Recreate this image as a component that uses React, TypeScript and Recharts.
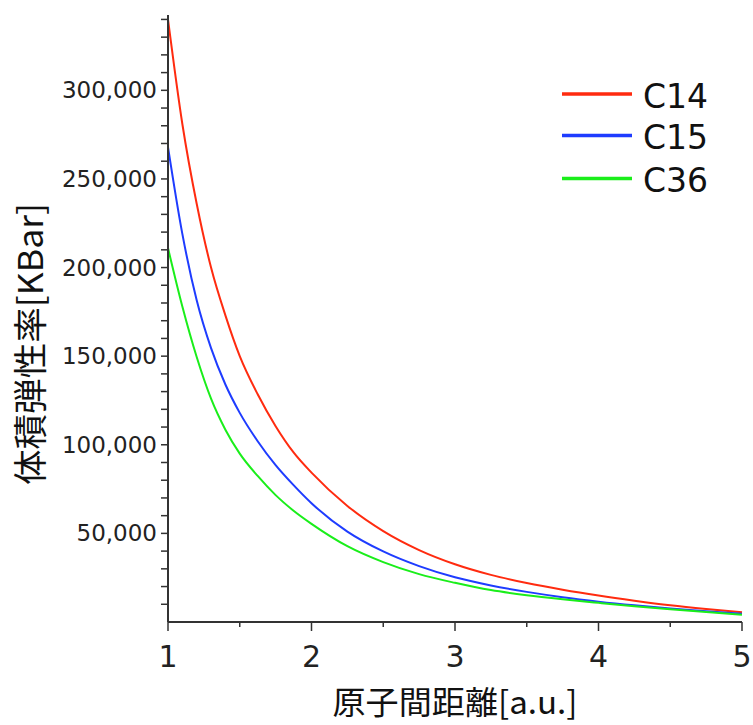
import React from 'react';
import { LineChart, Line, XAxis, YAxis } from 'recharts';

// 原子間距離 [a.u.]
const distances = [1, 1.1, 1.2, 1.3, 1.4, 1.5, 1.625, 1.75, 1.875, 2, 2.25, 2.5, 2.75, 3, 3.25, 3.5, 3.75, 4, 4.25, 4.5, 4.75, 5];
// 体積弾性率 [KBar]
const c14 = [340000, 281000, 236000, 200000, 173000, 150000, 128500, 110500, 95700, 84300, 65500, 51300, 40600, 32600, 26600, 22000, 18200, 14900, 12000, 9400, 7300, 5500];
const c15 = [268000, 219000, 181500, 154500, 134000, 118000, 102000, 88500, 77200, 67000, 51000, 39800, 31500, 25200, 20600, 17000, 14000, 11500, 9400, 7600, 6000, 4600];
const c36 = [211000, 178000, 149500, 126000, 108500, 95000, 82400, 71600, 62800, 55400, 42800, 33800, 27000, 22100, 18000, 15100, 12800, 10800, 8900, 7200, 5600, 4100];

const seriesNames = ['C14', 'C15', 'C36'];
const seriesKeys = ['c14', 'c15', 'c36'];
const seriesColors = ['#ff2b0f', '#1e3cff', '#1aee1a'];

const xTicks = [1, 1.5, 2, 2.5, 3, 3.5, 4, 4.5, 5];
const yTicks = [10000, 20000, 30000, 40000, 50000, 60000, 70000, 80000, 90000, 100000, 110000, 120000, 130000, 140000, 150000, 160000, 170000, 180000, 190000, 200000, 210000, 220000, 230000, 240000, 250000, 260000, 270000, 280000, 290000, 300000, 310000, 320000, 330000, 340000];
const yLabelStep = 50000;

const xTitle = '原子間距離[a.u.]';
const yTitle = '体積弾性率[KBar]';

const data = distances.map((r, i) => ({ r, c14: c14[i], c15: c15[i], c36: c36[i] }));

const NUM_FONT = '"DejaVu Sans", sans-serif';
const CJK_FONT = '"Noto Sans CJK JP", sans-serif';

const XTick = (props: any) => {
  const { x, y, payload } = props;
  const v = payload.value;
  const major = Number.isInteger(v);
  return (
    <g>
      <line x1={x} x2={x} y1={y} y2={y + (major ? 9 : 5)} stroke="#333" strokeWidth={1.5} />
      {major && (
        <text x={x} y={y + 45} textAnchor="middle" fontSize={30} fontFamily={NUM_FONT} fill="#222">
          {v}
        </text>
      )}
    </g>
  );
};

const YTick = (props: any) => {
  const { x, y, payload } = props;
  const v = payload.value;
  if (v % yLabelStep !== 0) return <g />;
  return (
    <text x={x} y={y + 8} textAnchor="end" fontSize={23} fontFamily={NUM_FONT} fill="#222">
      {v.toLocaleString('en-US')}
    </text>
  );
};

const XTitle = () => (
  <text
    x={455}
    y={700}
    textAnchor="middle"
    dominantBaseline="central"
    fontSize={32}
    fontFamily={CJK_FONT}
    fill="#111"
    textLength={245}
    lengthAdjust="spacingAndGlyphs"
  >
    {xTitle}
  </text>
);

const YTitle = () => (
  <text
    x={28}
    y={344}
    transform="rotate(-90 28 344)"
    textAnchor="middle"
    dominantBaseline="central"
    fontSize={34}
    fontFamily={CJK_FONT}
    fill="#111"
    textLength={282}
    lengthAdjust="spacingAndGlyphs"
  >
    {yTitle}
  </text>
);

const legendRowY = [24, 65.5, 108.5];

const LegendBox = () => (
  <svg width={190} height={130} style={{ position: 'absolute', left: 555, top: 70, display: 'block' }}>
    {seriesNames.map((name, i) => (
      <g key={name}>
        <line x1={7} x2={77} y1={legendRowY[i]} y2={legendRowY[i]} stroke={seriesColors[i]} strokeWidth={3.5} />
        <text x={88} y={legendRowY[i] + 13.5} fontSize={33} fontFamily={NUM_FONT} fill="#111">
          {name}
        </text>
      </g>
    ))}
  </svg>
);

export default function App() {
  return (
    <div style={{ position: 'absolute', left: 0, top: 0, width: 753, height: 725, background: '#fff' }}>
      <LineChart width={753} height={725} data={data} margin={{ top: 15, right: 11, left: 0, bottom: 0 }}>
        <XAxis
          dataKey="r"
          type="number"
          domain={[1, 5]}
          ticks={xTicks}
          interval={0}
          height={103}
          tickSize={0}
          tickMargin={0}
          tickLine={false}
          axisLine={{ stroke: '#333', strokeWidth: 2 }}
          tick={<XTick />}
          label={<XTitle />}
        />
        <YAxis
          type="number"
          domain={[0, 342500]}
          ticks={yTicks}
          interval={0}
          width={168}
          tickSize={7}
          tickMargin={4}
          axisLine={{ stroke: '#333', strokeWidth: 2 }}
          tickLine={{ stroke: '#333', strokeWidth: 1.5 }}
          tick={<YTick />}
          label={<YTitle />}
        />
        {seriesKeys.map((k, i) => (
          <Line
            key={k}
            dataKey={k}
            name={seriesNames[i]}
            type="monotone"
            stroke={seriesColors[i]}
            strokeWidth={2}
            dot={false}
            activeDot={false}
            isAnimationActive={false}
          />
        ))}
      </LineChart>
      <LegendBox />
    </div>
  );
}
